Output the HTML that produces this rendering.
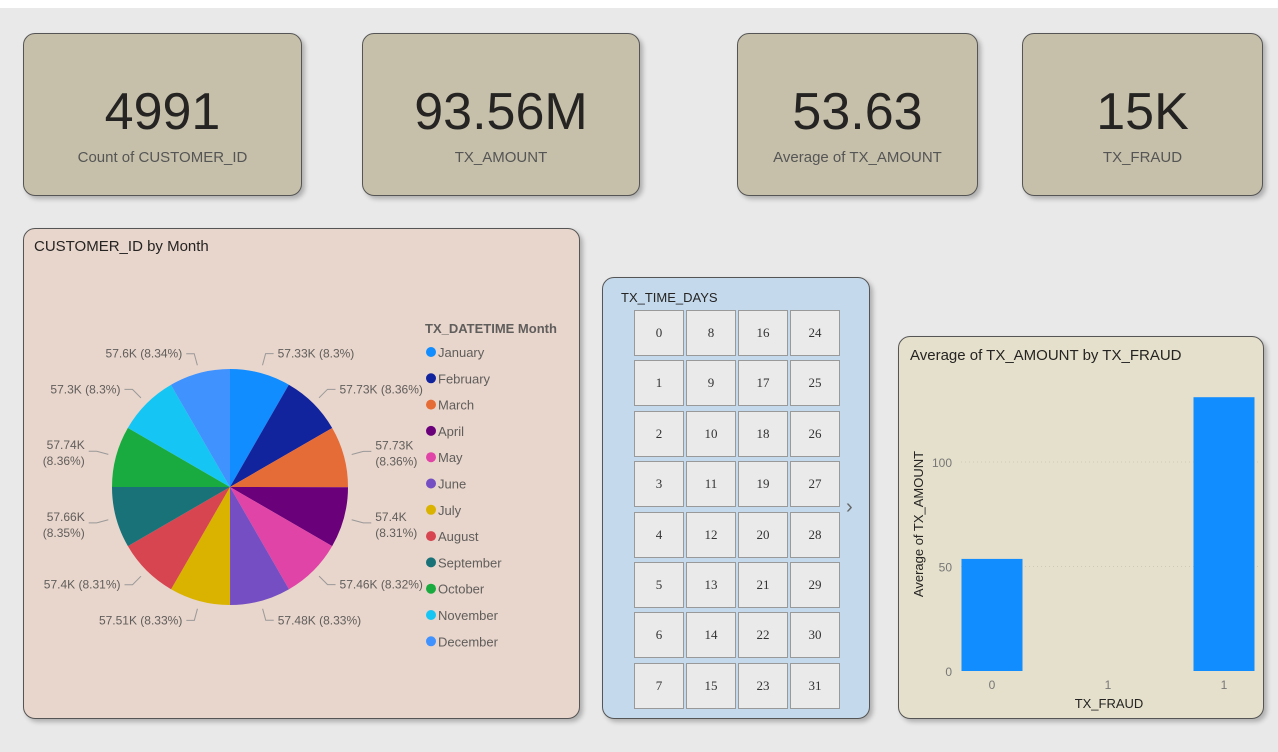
<!DOCTYPE html>
<html><head><meta charset="utf-8">
<style>
body{margin:0;width:1278px;height:752px;background:#e9e9e9;font-family:"Liberation Sans","DejaVu Sans",sans-serif;position:relative;overflow:hidden}
.top{position:absolute;left:0;top:0;width:1278px;height:8px;background:#fff}
.card{position:absolute;background:#c6c0aa;border:1px solid #555;border-radius:12px;box-shadow:3px 3px 5px rgba(0,0,0,.25);text-align:center}
.card .v{position:absolute;left:0;right:0;top:50px;font-size:52px;color:#252423;line-height:56px}
.card .l{position:absolute;left:0;right:0;top:115px;font-size:15px;color:#555}
.panel{position:absolute;border:1px solid #555;border-radius:12px;box-shadow:3px 3px 5px rgba(0,0,0,.25)}
.cell{position:absolute;width:48px;height:44px;background:#eaeaea;border:1px solid #999;font-family:"Liberation Serif",serif;font-size:13px;color:#333;display:flex;align-items:center;justify-content:center}
</style></head><body>
<div class="top"></div>
<div class="card" style="left:23px;top:33px;width:277px;height:161px"><div class="v">4991</div><div class="l">Count of CUSTOMER_ID</div></div>
<div class="card" style="left:362px;top:33px;width:276px;height:161px"><div class="v">93.56M</div><div class="l">TX_AMOUNT</div></div>
<div class="card" style="left:737px;top:33px;width:239px;height:161px"><div class="v">53.63</div><div class="l">Average of TX_AMOUNT</div></div>
<div class="card" style="left:1022px;top:33px;width:239px;height:161px"><div class="v">15K</div><div class="l">TX_FRAUD</div></div>

<div class="panel" style="left:23px;top:228px;width:555px;height:489px;background:#e8d5cb">
<svg id="pie" width="555" height="489" style="position:absolute;left:0;top:0">
<text x="10" y="22" font-size="15" fill="#252423">CUSTOMER_ID by Month</text>
</svg></div>

<div class="panel" style="left:602px;top:277px;width:266px;height:440px;background:#c4d9ec">
<div style="position:absolute;left:18px;top:12px;font-size:13px;color:#252423">TX_TIME_DAYS</div>
<div id="cells"></div>
<div style="position:absolute;left:243px;top:218px;font-size:20px;color:#666">&#8250;</div>
</div>

<div class="panel" style="left:898px;top:336px;width:364px;height:381px;background:#e5e0cb">
<svg id="bar" width="364" height="381" style="position:absolute;left:0;top:0">
<text x="11" y="23" font-size="15" fill="#252423">Average of TX_AMOUNT by TX_FRAUD</text>
</svg></div>

<script>
const months=["January","February","March","April","May","June","July","August","September","October","November","December"];
const monthValues=[57.33,57.73,57.73,57.4,57.46,57.48,57.51,57.4,57.66,57.74,57.3,57.6];
const monthPct=["8.3%","8.36%","8.36%","8.31%","8.32%","8.33%","8.33%","8.31%","8.35%","8.36%","8.3%","8.34%"];
const monthColors=["#118dff","#12239e","#e66c37","#6b007b","#e044a7","#744ec2","#d9b300","#d64550","#197278","#1aab40","#15c6f4","#4092ff"];
const fraudCats=["0","1","1"];
const fraudValues=[53.63,0,131];
const yTicks=[0,50,100];
const days=[];for(let i=0;i<32;i++)days.push(i);

const NS="http://www.w3.org/2000/svg";
function mk(p,t,a){const e=document.createElementNS(NS,t);for(const k in a)e.setAttribute(k,a[k]);p.appendChild(e);return e;}
// pie
const pie=document.getElementById('pie');
const cx=206,cy=258,R=118;
const tot=monthValues.reduce((a,b)=>a+b,0);
let ang=0;
monthValues.forEach((v,i)=>{
 const a0=ang,a1=ang+v/tot*2*Math.PI;ang=a1;
 const p=(a)=>[cx+R*Math.sin(a),cy-R*Math.cos(a)];
 const [x0,y0]=p(a0),[x1,y1]=p(a1);
 const s=mk(pie,'path',{d:`M${cx},${cy}L${x0},${y0}A${R},${R} 0 0 1 ${x1},${y1}Z`,fill:monthColors[i]});
 
 
 const am=(a0+a1)/2,sn=Math.sin(am),cs=Math.cos(am);
 const ex=cx+(R+8)*sn,ey=cy-(R+8)*cs,bx=cx+(R+20)*sn,by=cy-(R+20)*cs;
 const right=sn>0,hx=bx+(right?8:-8);
 mk(pie,'polyline',{points:`${ex},${ey} ${bx},${by} ${hx},${by}`,fill:'none',stroke:'#999','stroke-width':1});
 const two=Math.abs(cs)<0.5;
 const txt=monthValues[i]+'K ('+monthPct[i]+')';
 const t=mk(pie,'text',{x:hx+(right?4:-4),y:by+4,'font-size':12,fill:'#605e5c','text-anchor':right?'start':'end'});
 
 
 if(two){t.setAttribute('y',by-2);const a=mk(t,'tspan',{x:hx+(right?4:-4)});a.textContent=monthValues[i]+'K';const b=mk(t,'tspan',{x:hx+(right?4:-4),dy:16});b.textContent='('+monthPct[i]+')';}
 else t.textContent=txt;
});
const lt=mk(pie,'text',{x:401,y:104,'font-size':13,'font-weight':'bold',fill:'#605e5c'});lt.textContent='TX_DATETIME Month';

months.forEach((m,i)=>{
 const y=123+i*26.3;
 const g=mk(pie,'g',{});
 
 
 mk(g,'circle',{cx:407,cy:y,r:5,fill:monthColors[i]});
 const t=mk(g,'text',{x:414,y:y+5,'font-size':13,fill:'#605e5c'});t.textContent=m;
});
// slicer
const cells=document.getElementById('cells');
days.forEach((d,i)=>{
 const c=document.createElement('div');c.className='cell';
 c.style.left=(31+Math.floor(i/8)*52)+'px';c.style.top=(32+(i%8)*50.4)+'px';c.textContent=d;
 
 
 cells.appendChild(c);
});
// bar
const bar=document.getElementById('bar');
const y0=334,ppu=2.09,x0=93,step=116,bw=61;
const ys=v=>y0-v*ppu;
yTicks.forEach(t=>{
 if(t>0)mk(bar,'line',{x1:62,x2:360,y1:ys(t),y2:ys(t),stroke:'#cfcab6','stroke-dasharray':'1,3'});
 const e=mk(bar,'text',{x:53,y:ys(t)+5,'font-size':12,fill:'#777','text-anchor':'end'});e.textContent=t;
 
});
fraudCats.forEach((c,i)=>{
 const cxb=x0+i*step;
 if(fraudValues[i]>0){const r=mk(bar,'rect',{x:cxb-bw/2,y:ys(fraudValues[i]),width:bw,height:fraudValues[i]*ppu,fill:'#118dff'});
 }
 const t=mk(bar,'text',{x:cxb,y:352,'font-size':12,fill:'#777','text-anchor':'middle'});t.textContent=c;
 
});
const xt=mk(bar,'text',{x:210,y:371,'font-size':13,fill:'#252423','text-anchor':'middle'});xt.textContent='TX_FRAUD';

const yt=mk(bar,'text',{x:0,y:0,'font-size':13,fill:'#252423','text-anchor':'middle',transform:'translate(24,187) rotate(-90)'});yt.textContent='Average of TX_AMOUNT';

</script>
</body></html>
